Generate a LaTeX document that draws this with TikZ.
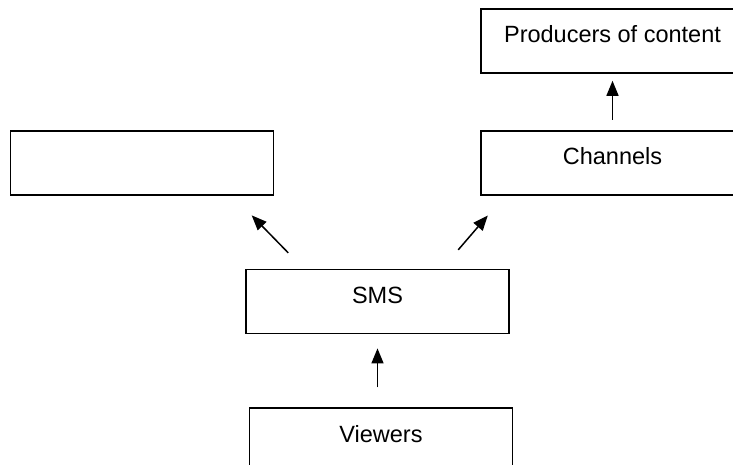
\documentclass[tikz,border=0pt]{standalone}
\usepackage{fontspec}
\setmainfont{Liberation Sans}
\usetikzlibrary{positioning,arrows.meta}
\tikzstyle{object}=[rectangle, draw=black, line width=0.9pt, fill=white, inner sep=0pt,
        text centered, text height=17pt, text depth=15pt, minimum width=131.5pt,
        font=\fontsize{11.75}{14}\selectfont]
\tikzstyle{link}=[-{Triangle[length=7.5pt,width=6pt]}, line width=0.75pt]

\begin{document}
\begin{tikzpicture}[node distance=36.5pt]
        \useasboundingbox (0,0) rectangle (366.5pt,-232.5pt);
        \node (sms) [object] at (188.75pt,-150.75pt) {SMS};
        \node (Viewers) [object, below=of sms, xshift=1.75pt] {Viewers};
        \node (Empty) [object, above=of sms, xshift=-117.75pt] {};
        \node (Channels) [object, above=of sms, xshift=117.5pt] {Channels};
        \node (Producers) [object, above=28pt of Channels] {Producers of content};

        \draw [link, shorten <=10pt, shorten >=7pt] (Viewers.north -| sms) -- (sms.south);
        \draw [link, shorten <=11pt, shorten >=13.8pt] (sms.156) -- (Empty.-20);
        \draw [link, shorten <=12.4pt, shorten >=13.1pt] (sms.27) -- (Channels.197);
        \draw [link, shorten <=5pt, shorten >=3.5pt] (Channels.north) -- (Producers.south);
\end{tikzpicture}
\end{document}
